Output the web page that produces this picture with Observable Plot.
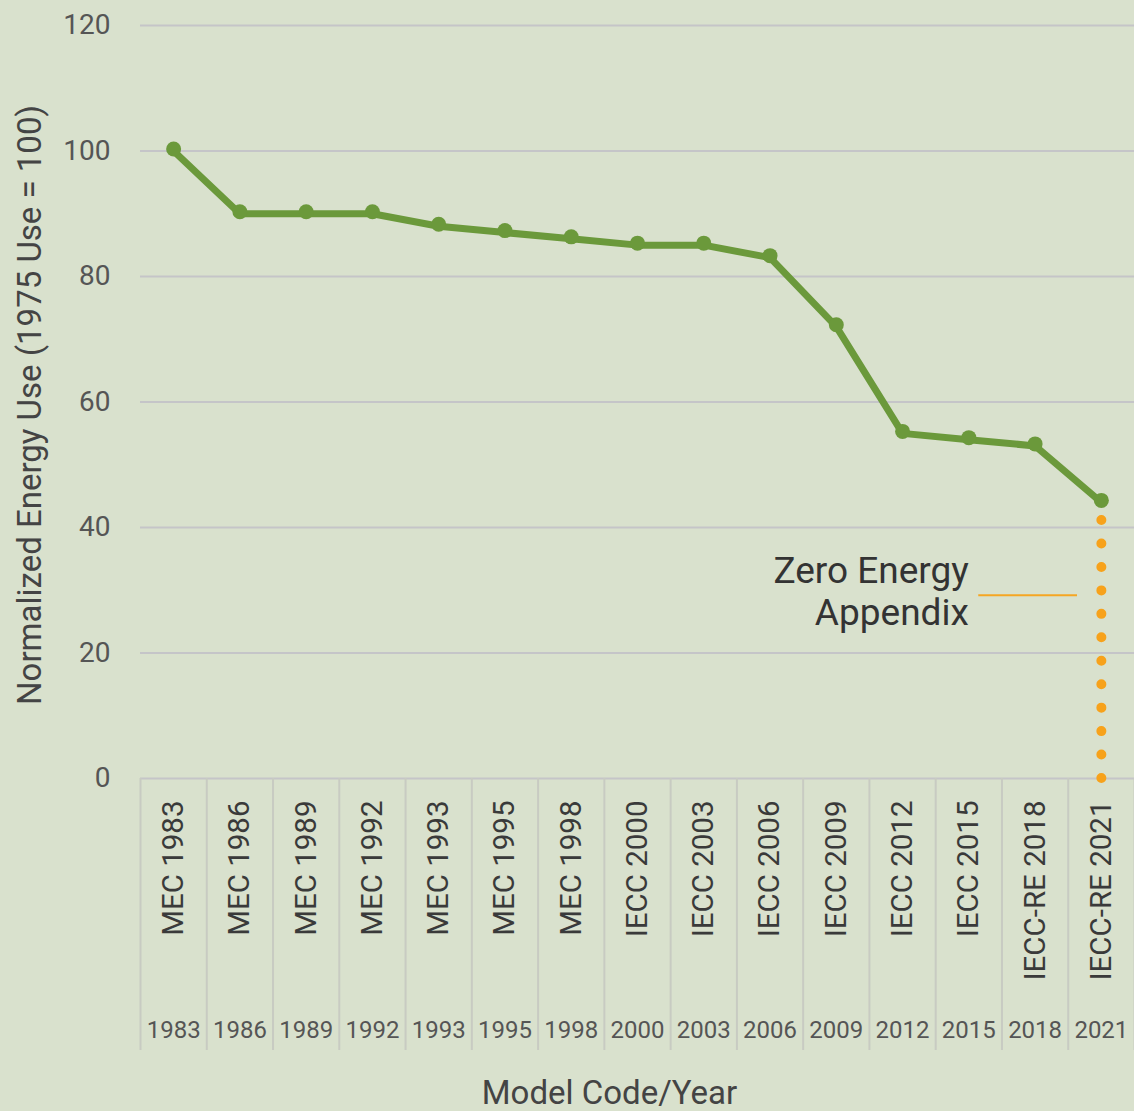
<!DOCTYPE html>
<html>
<head>
<meta charset="utf-8">
<script src="https://cdn.jsdelivr.net/npm/d3@7"></script>
<script src="https://cdn.jsdelivr.net/npm/@observablehq/plot@0.6"></script>
<style>
  html, body { margin: 0; padding: 0; background: #d9e1cd; }
  #chart svg { display: block; }
</style>
</head>
<body>
<div id="chart"></div>
<script>
const codes = ["MEC 1983","MEC 1986","MEC 1989","MEC 1992","MEC 1993","MEC 1995","MEC 1998","IECC 2000","IECC 2003","IECC 2006","IECC 2009","IECC 2012","IECC 2015","IECC-RE 2018","IECC-RE 2021"];
const years = [1983,1986,1989,1992,1993,1995,1998,2000,2003,2006,2009,2012,2015,2018,2021];
const energy = [100,90,90,90,88,87,86,85,85,83,72,55,54,53,44];
const yTicks = [0,20,40,60,80,100,120];
const zeroEnergyTop = 41.3;
const annotationLabel = "Zero Energy\nAppendix";

const data = codes.map((c, i) => ({i, code: c, year: years[i], value: energy[i]}));
const idx = d3.range(codes.length);
const boundaries = d3.range(codes.length + 1).map(i => i - 0.5);

const chart = Plot.plot({
  width: 1134,
  height: 1111,
  marginLeft: 140,
  marginRight: 0,
  marginTop: 25,
  marginBottom: 333,
  style: {background: "transparent", fontFamily: "Roboto, sans-serif"},
  x: {type: "linear", domain: [-0.5, codes.length - 0.5], axis: null},
  y: {domain: [0, 120], axis: null},
  marks: [
    Plot.gridY(yTicks, {stroke: "#c5c5c8", strokeWidth: 2, strokeOpacity: 1}),
    Plot.axisX(boundaries, {tickSize: 272, stroke: "#c8cbc2", strokeWidth: 2, tickFormat: () => ""}),
    Plot.axisX(idx, {tickFormat: i => codes[i], tickRotate: -90, tickSize: 0, tickPadding: 22, fontSize: 29.5, fill: "#3a3a3a"}),
    Plot.axisX(idx, {tickFormat: i => String(years[i]), tickSize: 0, tickPadding: 242, fontSize: 24, fill: "#555"}),
    Plot.axisY(yTicks, {tickSize: 0, tickPadding: 30, fontSize: 28, fill: "#555", label: null}),
    Plot.text(["Normalized Energy Use (1975 Use = 100)"], {frameAnchor: "left", textAnchor: "middle", dx: -110, dy: 3, rotate: -90, fontSize: 33, fill: "#444"}),
    Plot.text(["Model Code/Year"], {frameAnchor: "bottom", textAnchor: "middle", dx: -28, dy: 325, fontSize: 33, fill: "#444"}),
    Plot.ruleX([codes.length - 1], {y1: 0, y2: zeroEnergyTop, stroke: "#f7a21b", strokeWidth: 10, strokeLinecap: "round", strokeDasharray: "0,23.45"}),
    Plot.ruleY([{y: 29.2, x1: 12.15, x2: 13.64}], {y: "y", x1: "x1", x2: "x2", stroke: "#f5a623", strokeWidth: 2}),
    Plot.text([{x: 12.0, y: 30, label: annotationLabel}], {x: "x", y: "y", text: "label", textAnchor: "end", lineAnchor: "middle", fontSize: 37, lineHeight: 1.15, fill: "#333"}),
    Plot.line(data, {x: "i", y: "value", stroke: "#6b993b", strokeWidth: 7, strokeLinejoin: "round"}),
    Plot.dot(data, {x: "i", y: "value", r: 7.5, fill: "#6b993b", dy: -2})
  ]
});
document.getElementById("chart").appendChild(chart);
</script>
</body>
</html>
